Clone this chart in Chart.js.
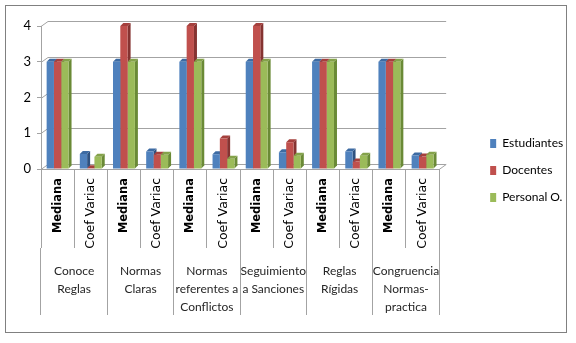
<!DOCTYPE html>
<html lang="es">
<head>
  <meta charset="UTF-8" />
  <title>Mediana y Coeficiente de Variación</title>
  <script src="https://cdn.jsdelivr.net/npm/chart.js"></script>
  <style>
    body {
      margin: 0;
      background: #fff;
    }
    .frame {
      position: absolute;
      left: 5px;
      top: 5px;
      width: 560px;
      height: 326px;
      border: 1px solid #808080;
    }
  </style>
</head>
<body>
  <div class="frame"><canvas id="chart"></canvas></div>

  <script>
    // === Data ===
    const groups = [
      ['Conoce', 'Reglas'],
      ['Normas', 'Claras'],
      ['Normas', 'referentes a', 'Conflictos'],
      ['Seguimiento', 'a Sanciones'],
      ['Reglas', 'Rígidas'],
      ['Congruencia', 'Normas-', 'practica']
    ];
    const categories = [
      'Mediana', 'Coef Variac', 'Mediana', 'Coef Variac', 'Mediana', 'Coef Variac',
      'Mediana', 'Coef Variac', 'Mediana', 'Coef Variac', 'Mediana', 'Coef Variac'
    ];
    const estudiantes = [3, 0.42, 3, 0.49, 3, 0.41, 3, 0.47, 3, 0.49, 3, 0.38];
    const docentes    = [3, 0.02, 4, 0.40, 4, 0.85, 4, 0.75, 3, 0.21, 3, 0.35];
    const personal    = [3, 0.34, 3, 0.40, 3, 0.29, 3, 0.37, 3, 0.37, 3, 0.40];
    const yTicks = [0, 1, 2, 3, 4];

    const gridColor = '#a3a3a3';
    const labelFont = "Lato, 'Liberation Sans', sans-serif";

    // === Pseudo 3D look (side faces, caps, back wall) ===
    const wall = { x: 7, y: 5 };
    const depth = { x: 3, y: 3 };
    const sideColors = ['#2f5280', '#853331', '#6a8a36'];
    const capColors = ['#3d6ba3', '#a5403d', '#84a24a'];

    const bar3d = {
      id: 'bar3d',
      beforeDatasetsDraw(chart) {
        const ctx = chart.ctx;
        const { left, right, bottom } = chart.chartArea;
        const y = chart.scales.y;
        ctx.save();
        ctx.strokeStyle = gridColor;
        ctx.lineWidth = 1;
        y.ticks.forEach(t => {
          const py = Math.round(y.getPixelForValue(t.value)) + 0.5;
          ctx.beginPath();
          ctx.moveTo(left, py);
          ctx.lineTo(left + wall.x, py - wall.y);
          ctx.lineTo(right + wall.x, py - wall.y);
          ctx.stroke();
        });
        ctx.beginPath();
        ctx.moveTo(right, bottom + 0.5);
        ctx.lineTo(right + wall.x, bottom + 0.5 - wall.y);
        ctx.stroke();

        chart.data.datasets.forEach((ds, i) => {
          chart.getDatasetMeta(i).data.forEach(bar => {
            const l = bar.x - bar.width / 2;
            const r = bar.x + bar.width / 2;
            const t = bar.y;
            const b = bar.base;
            ctx.fillStyle = sideColors[i];
            ctx.beginPath();
            ctx.moveTo(r, t);
            ctx.lineTo(r + depth.x, t - depth.y);
            ctx.lineTo(r + depth.x, b - depth.y);
            ctx.lineTo(r, b);
            ctx.closePath();
            ctx.fill();
            ctx.fillStyle = capColors[i];
            ctx.beginPath();
            ctx.moveTo(l, t);
            ctx.lineTo(l + depth.x, t - depth.y);
            ctx.lineTo(r + depth.x, t - depth.y);
            ctx.lineTo(r, t);
            ctx.closePath();
            ctx.fill();
          });
        });
        ctx.restore();
      }
    };

    new Chart(document.getElementById('chart'), {
      type: 'bar',
      data: {
        labels: categories,
        datasets: [
          { label: 'Estudiantes', data: estudiantes, backgroundColor: '#4f81bd' },
          { label: 'Docentes', data: docentes, backgroundColor: '#c0504d' },
          { label: 'Personal O.', data: personal, backgroundColor: '#9bbb59' }
        ]
      },
      options: {
        responsive: true,
        maintainAspectRatio: false,
        animation: false,
        categoryPercentage: 0.66,
        barPercentage: 1,
        layout: { padding: { top: 20, right: -3, bottom: 17, left: 0 } },
        plugins: {
          tooltip: { enabled: false },
          legend: {
            position: 'right',
            labels: {
              boxWidth: 6,
              boxHeight: 9,
              padding: 15,
              color: '#000',
              font: { family: labelFont, size: 12 }
            }
          }
        },
        scales: {
          x: {
            type: 'category',
            offset: true,
            grid: { drawOnChartArea: false, offset: true, tickLength: 79, color: gridColor },
            border: { color: gridColor },
            ticks: {
              autoSkip: false,
              minRotation: 90,
              maxRotation: 90,
              padding: -70,
              color: '#000',
              font: c => c.index % 2 === 0
                ? { family: 'DejaVu Sans', size: 11.5, weight: 'bold' }
                : { family: 'DejaVu Sans', size: 12.5, weight: 'normal' }
            },
            afterFit: s => { s.height = 79; }
          },
          x2: {
            type: 'category',
            position: 'bottom',
            labels: groups,
            offset: true,
            grid: { drawOnChartArea: false, offset: true, tickLength: 67, color: gridColor },
            border: { display: false },
            ticks: {
              autoSkip: false,
              maxRotation: 0,
              padding: -53,
              color: '#262626',
              font: { family: labelFont, size: 12, lineHeight: 1.5 }
            },
            afterFit: s => { s.height = 67; }
          },
          y: {
            min: 0,
            max: 4,
            afterBuildTicks: s => { s.ticks = yTicks.map(v => ({ value: v })); },
            grid: { drawOnChartArea: false, tickLength: 4, color: gridColor },
            border: { color: gridColor },
            ticks: { padding: 6, color: '#000', font: { family: labelFont, size: 13 } },
            afterFit: s => { s.width = 35; }
          },
          gap: {
            type: 'linear',
            position: 'right',
            grid: { display: false },
            border: { display: false },
            ticks: { display: false },
            afterFit: s => { s.width = 36; }
          }
        }
      },
      plugins: [bar3d]
    });
  </script>
</body>
</html>
